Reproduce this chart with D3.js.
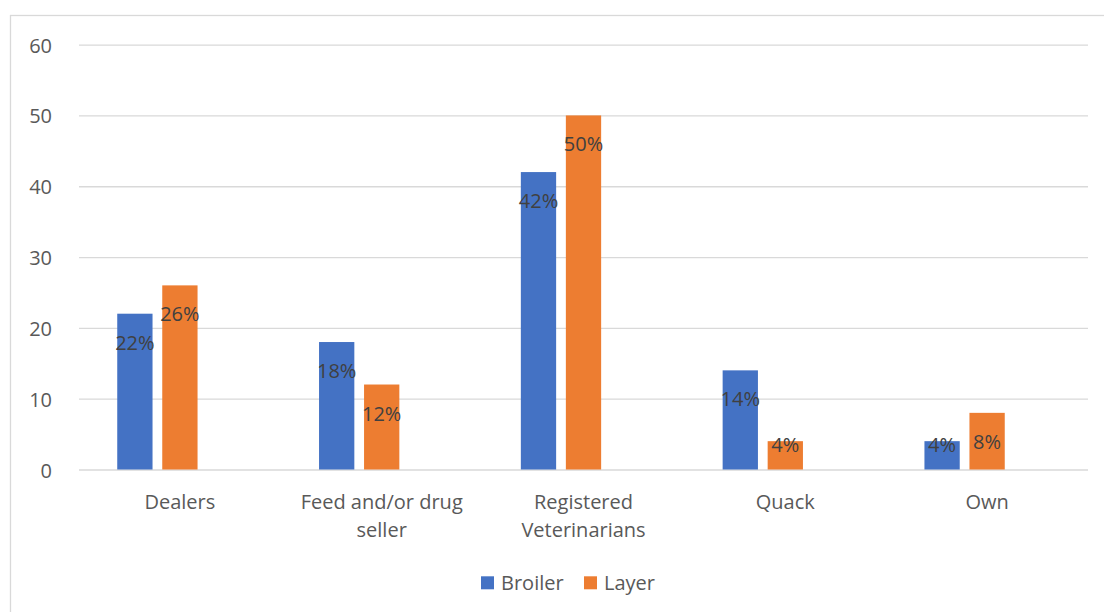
<!DOCTYPE html>
<html>
<head>
<meta charset="utf-8">
<script src="https://cdn.jsdelivr.net/npm/d3@7"></script>
<style>
html,body{margin:0;padding:0;background:#fff;}
svg{display:block;font-family:"Open Sans",sans-serif;}
</style>
</head>
<body>
<svg id="chart" width="1104" height="612"></svg>
<script>
const categories = [["Dealers"], ["Feed and/or drug", "seller"], ["Registered", "Veterinarians"], ["Quack"], ["Own"]];
const seriesNames = ["Broiler", "Layer"];
const broiler = [22, 18, 42, 14, 4];
const layer = [26, 12, 50, 4, 8];
const yTicks = [0, 10, 20, 30, 40, 50, 60];
const colors = ["#4472C4", "#ED7D31"];

(function () {
const values = [broiler, layer];
const svg = d3.select("#chart");
const W = 1104, H = 612;
const pLeft = 79, pRight = 1088, pTop = 44.6, pBottom = 469.5;

// chart frame
svg.append("rect").attr("x", 10.5).attr("y", 15.5).attr("width", W + 10).attr("height", H + 10)
  .attr("fill", "none").attr("stroke", "#d9d9d9").attr("stroke-width", 1.3);

const catKeys = categories.map(c => c.join(" "));
const x0 = d3.scaleBand().domain(catKeys).range([pLeft, pRight]).paddingInner(0.379).paddingOuter(0.1895);
// three slots per cluster (the chart reserves an empty third slot)
const x1 = d3.scaleBand().domain([0, 1, 2]).range([0, x0.bandwidth()]).paddingInner(0.216).paddingOuter(0);
const y = d3.scaleLinear().domain([0, 60]).range([pBottom, pTop]);

// gridlines
const grid = svg.append("g").attr("class", "grid")
  .attr("transform", `translate(${pLeft},0)`)
  .call(d3.axisLeft(y).tickValues(yTicks).tickSize(-(pRight - pLeft)).tickFormat(""));
grid.select(".domain").remove();
grid.selectAll("line").attr("stroke", "#d9d9d9").attr("stroke-width", 1.3);

// y tick labels
const yAxis = svg.append("g").attr("transform", `translate(52,0)`)
  .call(d3.axisLeft(y).tickValues(yTicks).tickSize(0).tickPadding(0));
yAxis.select(".domain").remove();
yAxis.selectAll("text").attr("font-family", "Open Sans").attr("font-size", 20).attr("fill", "#595959")
  .attr("dy", null).attr("dominant-baseline", "central").attr("x", 0);

// bars
seriesNames.forEach((s, si) => {
  svg.append("g").selectAll("rect").data(values[si]).join("rect")
    .attr("x", (d, i) => x0(catKeys[i]) + x1(si))
    .attr("width", x1.bandwidth())
    .attr("y", d => y(d))
    .attr("height", d => y(0) - y(d))
    .attr("fill", colors[si]);
});

// data labels
seriesNames.forEach((s, si) => {
  svg.append("g").selectAll("text").data(values[si]).join("text")
    .attr("x", (d, i) => x0(catKeys[i]) + x1(si) + x1.bandwidth() / 2)
    .attr("y", d => Math.min(y(d) + 36, y(0) - 18))
    .attr("text-anchor", "middle")
    .attr("font-size", 20).attr("fill", "#404040")
    .text(d => d + "%");
});

// category labels
const cat = svg.append("g");
categories.forEach((lines, i) => {
  const t = cat.append("text").attr("text-anchor", "middle").attr("font-size", 20).attr("fill", "#595959");
  lines.forEach((ln, li) => {
    t.append("tspan").attr("x", x0(catKeys[i]) + x0.bandwidth() / 2).attr("y", 508.5 + li * 28.5).text(ln);
  });
});

// legend
const legend = svg.append("g");
const legX = [481, 584];
seriesNames.forEach((s, si) => {
  legend.append("rect").attr("x", legX[si]).attr("y", 576.3).attr("width", 13).attr("height", 13).attr("fill", colors[si]);
  legend.append("text").attr("x", legX[si] + 20).attr("y", 590).attr("font-size", 20).attr("fill", "#595959").text(s);
});
})();
</script>
</body>
</html>
